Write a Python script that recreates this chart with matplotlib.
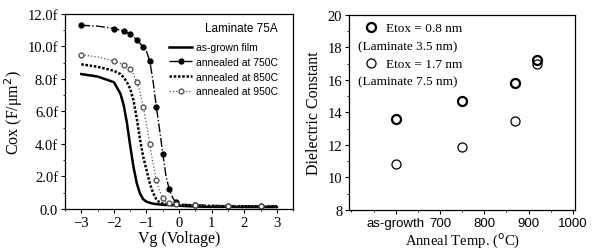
import matplotlib
matplotlib.use("Agg")
import matplotlib.pyplot as plt
from matplotlib.ticker import MultipleLocator, FuncFormatter

# --- left panel: C-V curves ---
vg = [-3.0, -2.5, -2.0, -1.8, -1.7, -1.6, -1.5, -1.4, -1.3, -1.2, -1.1, -1.0,
      -0.9, -0.8, -0.7, -0.6, -0.5, -0.4, -0.3, -0.2, -0.1, 0.0,
      0.5, 1.0, 1.5, 2.0, 2.5, 3.0]
cox_asgrown = [8.3, 8.15, 7.8, 7.1, 6.4, 5.3, 3.9, 2.6, 1.6, 0.95, 0.6, 0.45,
               0.38, 0.33, 0.3, 0.28, 0.26, 0.25, 0.24, 0.23, 0.22, 0.2,
               0.15, 0.13, 0.13, 0.12, 0.12, 0.12]
cox_750 = [11.3, 11.25, 11.1, 11.0, 10.95, 10.85, 10.75, 10.6, 10.4, 10.2, 9.95, 9.7,
           9.1, 7.9, 6.3, 4.9, 3.4, 2.0, 1.2, 0.7, 0.4, 0.3,
           0.25, 0.22, 0.2, 0.2, 0.2, 0.2]
cox_850 = [8.9, 8.75, 8.5, 8.3, 8.1, 7.8, 7.4, 6.7, 5.6, 4.3, 3.2, 2.4,
           1.6, 1.0, 0.6, 0.4, 0.33, 0.3, 0.28, 0.26, 0.25, 0.24,
           0.2, 0.18, 0.18, 0.17, 0.17, 0.17]
cox_950 = [9.5, 9.35, 9.1, 8.95, 8.85, 8.75, 8.6, 8.3, 7.8, 7.2, 6.3, 5.2,
           4.0, 2.8, 1.8, 1.1, 0.7, 0.45, 0.35, 0.3, 0.28, 0.25,
           0.22, 0.2, 0.2, 0.2, 0.2, 0.2]

# --- right panel: dielectric constant vs anneal temperature ---
temps = [600, 750, 870, 920]
temp_ticks = [600, 700, 800, 900, 1000]
temp_labels = ["as-growth", "700", "800", "900", "1000"]
k_thin = [13.6, 14.7, 15.8, 17.2]   # Etox = 0.8 nm
k_thick = [10.8, 11.9, 13.5, 17.0]  # Etox = 1.7 nm

serif = "Liberation Serif"
sans = "Liberation Sans"

fig = plt.figure(figsize=(5.96, 2.53), dpi=100)
ax1 = fig.add_axes([0.109, 0.170, 0.383, 0.771])
ax2 = fig.add_axes([0.586, 0.166, 0.379, 0.771])

# left plot
ax1.plot(vg, cox_asgrown, color="black", lw=1.8, ls="-", label="as-grown film")
ax1.plot(vg, cox_750, color="black", lw=1.0, ls="-.", marker="o", ms=3.5,
         markevery=2, label="annealed at 750C")
ax1.plot(vg, cox_850, color="black", lw=1.8, ls=(0, (1, 0.7)), label="annealed at 850C")
ax1.plot(vg, cox_950, color="#555555", lw=0.9, ls=":", marker="o", ms=3.5,
         mfc="white", markevery=2, label="annealed at 950C")

ax1.set_xlim(-3.5, 3.5)
ax1.set_ylim(0, 12)
ax1.xaxis.set_major_locator(MultipleLocator(1))
ax1.yaxis.set_major_locator(MultipleLocator(2))
ax1.yaxis.set_minor_locator(MultipleLocator(1))
ax1.xaxis.set_minor_locator(MultipleLocator(0.5))
ax1.yaxis.set_major_formatter(FuncFormatter(lambda v, p: "0.0" if v == 0 else f"{v:.1f}f"))
ax1.tick_params(direction="out", length=3, width=0.8, labelsize=10.5, pad=2)
ax1.tick_params(which="minor", direction="out", length=1.5)
for lab in ax1.get_xticklabels() + ax1.get_yticklabels():
    lab.set_family(serif)
ax1.set_xlabel("Vg (Voltage)", family=serif, fontsize=11.5, labelpad=1)
ax1.set_ylabel("Cox (F/\u03bcm$^2$)", family=serif, fontsize=11.5, labelpad=2)
leg1 = ax1.legend(loc="upper right", frameon=False, title="Laminate 75A",
                  prop={"family": sans, "size": 7.5},
                  title_fontproperties={"family": sans, "size": 8.5},
                  handlelength=2.2, handletextpad=0.3, labelspacing=0.45,
                  borderaxespad=0.0, bbox_to_anchor=(0.95, 0.98))
leg1._legend_box.align = "right"
leg1._legend_box.sep = 6

# right plot
ax2.plot(temps, k_thin, ls="none", marker="o", ms=6.5, mfc="none", mec="black",
         mew=1.6, label="Etox = 0.8 nm")
ax2.plot(temps, k_thick, ls="none", marker="o", ms=6.5, mfc="none", mec="black",
         mew=0.9, label="Etox = 1.7 nm")
ax2.set_xlim(495, 1005)
ax2.set_ylim(8, 20)
ax2.set_xticks(temp_ticks)
ax2.set_xticklabels(temp_labels, family=sans, fontsize=9.5)
ax2.xaxis.set_minor_locator(MultipleLocator(50))
ax2.yaxis.set_major_locator(MultipleLocator(2))
ax2.yaxis.set_minor_locator(MultipleLocator(1))
ax2.tick_params(direction="out", length=3, width=0.8, labelsize=10.5, pad=2)
ax2.tick_params(axis="x", labelsize=9.5)
ax2.tick_params(which="minor", direction="out", length=1.5)
for lab in ax2.get_yticklabels():
    lab.set_family(serif)
ax2.set_xlabel("Anneal Temp. ($^{\\rm o}$C)", family=serif, fontsize=10.5, labelpad=1)
ax2.set_ylabel("Dielectric Constant", family=serif, fontsize=11.5, labelpad=4)
ax2.legend(loc="upper left", frameon=False, prop={"family": serif, "size": 9.5},
           handlelength=1.0, handletextpad=0.6, labelspacing=1.8,
           borderaxespad=0.0, bbox_to_anchor=(0.045, 0.99))
ax2.text(0.04, 0.841, "(Laminate 3.5 nm)", transform=ax2.transAxes, family=serif,
         fontsize=9.5, va="center", ha="left")
ax2.text(0.04, 0.662, "(Laminate 7.5 nm)", transform=ax2.transAxes, family=serif,
         fontsize=9.5, va="center", ha="left")

for ax in (ax1, ax2):
    for s in ax.spines.values():
        s.set_linewidth(0.9)

fig.savefig("out.png", dpi=100)
